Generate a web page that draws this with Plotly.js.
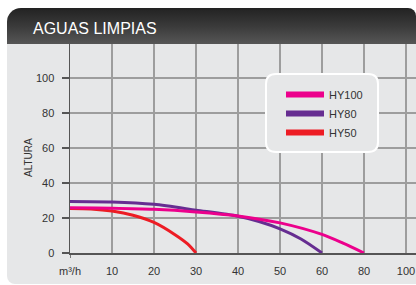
<!DOCTYPE html>
<html>
<head>
<meta charset="utf-8">
<script src="https://cdn.plot.ly/plotly-3.0.1.min.js"></script>
<style>
  html, body { margin:0; padding:0; background:#ffffff; }
  #wrap { position:relative; width:416px; height:285px; overflow:hidden; }
  #header { position:absolute; left:7px; top:8px; width:409px; height:36px;
    border-radius:14px 8px 0 0;
    background:linear-gradient(to bottom, #222222 0%, #3a3a3a 50%, #565656 100%); }
  #panel { position:absolute; left:7px; top:44px; width:409px; height:240px;
    border-radius:0 0 0 8px; background:#e6e7e8; }
  #chart { position:absolute; left:0; top:0; width:416px; height:285px; }
</style>
</head>
<body>
<div id="wrap">
  <div id="header"></div>
  <div id="panel"></div>
  <div id="chart"></div>
</div>
<script>
// Flow axis tick values (m³/h) and labels – the axis is evenly spaced per tick
const flowTicks = [0, 10, 20, 30, 40, 50, 60, 80, 100];
const flowTickText = ['m³/h', '10', '20', '30', '40', '50', '60', '80', '100'];
const heightTicks = [0, 20, 40, 60, 80, 100];

// Series (flow m³/h, height m)
const hy100Flow = [0, 10, 20, 30, 40, 50, 60, 70, 80];
const hy100Head = [25.8, 25.6, 25.0, 23.5, 21.2, 17.2, 10.6, 5.6, 0];

const hy80Flow = [0, 10, 20, 30, 40, 45, 50, 55, 60];
const hy80Head = [29.5, 29.2, 27.8, 24.5, 21.0, 18.0, 13.8, 8.0, 0];

const hy50Flow = [0, 5, 10, 15, 20, 25, 28, 30];
const hy50Head = [25.5, 25.2, 24.0, 21.6, 17.5, 10.5, 5.2, 0];

const names = ['HY100', 'HY80', 'HY50'];
const colors = {HY100: '#ec008c', HY80: '#662d91', HY50: '#ed1c24'};

// map flow values onto the evenly spaced tick positions
function flowPos(q) {
  for (let i = 0; i < flowTicks.length - 1; i++) {
    const a = flowTicks[i], b = flowTicks[i + 1];
    if (q <= b) return i + (q - a) / (b - a);
  }
  return flowTicks.length - 1;
}

const series = {
  HY100: [hy100Flow, hy100Head],
  HY80: [hy80Flow, hy80Head],
  HY50: [hy50Flow, hy50Head]
};

const traces = [];
// curves (drawn red, purple, pink so pink is on top)
['HY50', 'HY80', 'HY100'].forEach(n => {
  traces.push({
    x: series[n][0].map(flowPos), y: series[n][1],
    type: 'scatter', mode: 'lines', name: n, showlegend: false,
    line: {color: colors[n], width: 3, shape: 'spline', smoothing: 0.8},
    hoverinfo: 'skip'
  });
});
// legend entries (thicker line swatches)
names.forEach(n => {
  traces.push({
    x: [null], y: [null], type: 'scatter', mode: 'lines', name: n,
    line: {color: colors[n], width: 6}, showlegend: true
  });
});

const L = 70, T = 44, B = 32, W = 416, H = 285;
const pw = W - L, ph = H - T - B;
function px2x(px) { return (px - L) / pw; }
function py2y(py) { return (H - B - py) / ph; }

// rounded legend box path (paper coords)
function roundRect(x0, y0, x1, y1, r) {
  const X0 = px2x(x0), X1 = px2x(x1), Y0 = py2y(y0), Y1 = py2y(y1);
  const rx = r / pw, ry = r / ph;
  return `M${X0 + rx},${Y0} L${X1 - rx},${Y0} Q${X1},${Y0} ${X1},${Y0 - ry} ` +
         `L${X1},${Y1 + ry} Q${X1},${Y1} ${X1 - rx},${Y1} L${X0 + rx},${Y1} ` +
         `Q${X0},${Y1} ${X0},${Y1 + ry} L${X0},${Y0 - ry} Q${X0},${Y0} ${X0 + rx},${Y0} Z`;
}

const font = 'Liberation Sans, Arial, Helvetica, sans-serif';

const layout = {
  width: W, height: H,
  margin: {l: L, r: 0, t: T, b: B, pad: 0},
  paper_bgcolor: 'rgba(0,0,0,0)',
  plot_bgcolor: 'rgba(0,0,0,0)',
  font: {family: font, size: 11, color: '#333333'},
  title: {
    text: 'AGUAS LIMPIAS', x: 33 / W, xanchor: 'left', xref: 'container',
    y: 1 - 28.5 / H, yanchor: 'middle', yref: 'container',
    font: {family: font, size: 16, color: '#ffffff'}
  },
  xaxis: {
    range: [0, pw / 42],
    tickvals: flowTicks.map(flowPos), ticktext: flowTickText,
    showgrid: true, gridcolor: '#9d9d9d', gridwidth: 1.5,
    showline: true, linecolor: '#555555', linewidth: 1.5,
    ticks: 'outside', ticklen: 7, tickcolor: 'rgba(0,0,0,0)',
    zeroline: false, fixedrange: true,
    tickfont: {size: 11, color: '#333333'}
  },
  yaxis: {
    range: [0, ph / 1.75],
    tickvals: heightTicks,
    showgrid: true, gridcolor: '#9d9d9d', gridwidth: 1.5,
    showline: true, linecolor: '#555555', linewidth: 1.5,
    ticks: 'outside', ticklen: 7, tickwidth: 1.5, tickcolor: '#555555',
    ticklabelstandoff: 5,
    zeroline: false, fixedrange: true,
    tickfont: {size: 11, color: '#333333'}
  },
  showlegend: true,
  legend: {
    x: px2x(281), xanchor: 'left', y: py2y(80), yanchor: 'top',
    bgcolor: 'rgba(0,0,0,0)', borderwidth: 0,
    font: {size: 11, color: '#333333'}, itemwidth: 38,
    traceorder: 'normal'
  },
  shapes: [
    {type: 'path', xref: 'paper', yref: 'paper', layer: 'above',
     path: roundRect(266, 74, 378, 152, 10),
     fillcolor: '#e6e7e8', line: {color: '#ffffff', width: 2}},
    {type: 'line', xref: 'x', yref: 'paper', x0: 0, x1: 0, y0: 0, y1: -5 / ph,
     line: {color: '#555555', width: 1.5}}
  ],
  annotations: [
    {text: 'ALTURA', xref: 'paper', yref: 'paper', x: px2x(28), y: py2y(158),
     xanchor: 'center', yanchor: 'middle', textangle: -90, showarrow: false,
     font: {size: 10, color: '#333333'}}
  ]
};

Plotly.newPlot('chart', traces, layout, {displayModeBar: false, staticPlot: true});
</script>
</body>
</html>
